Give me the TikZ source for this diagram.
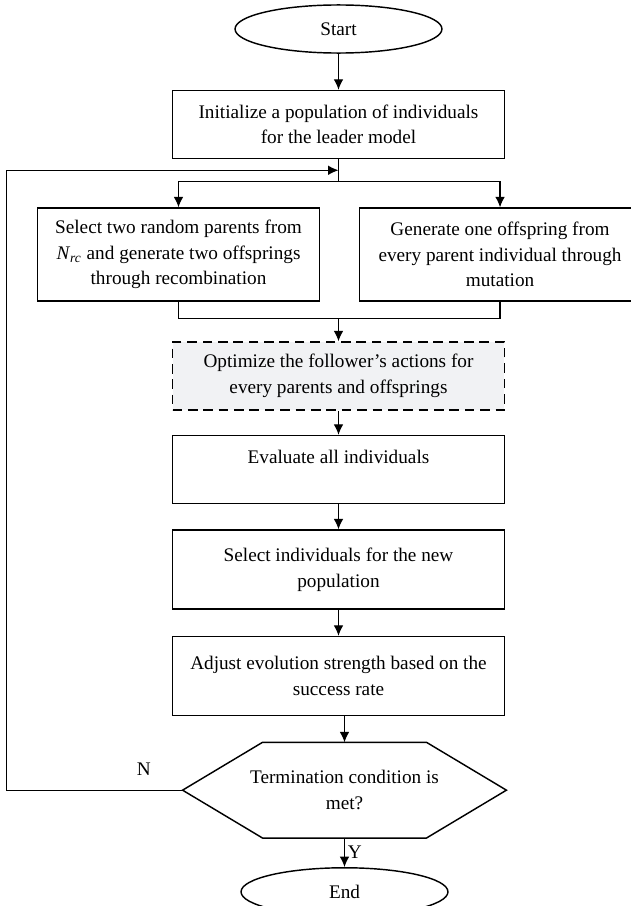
\documentclass[tikz,border=0pt]{standalone}
\usepackage{fontspec}
\setmainfont{Liberation Serif}
\usetikzlibrary{positioning,arrows.meta,shapes.geometric}
\definecolor{optfill}{RGB}{241,242,244}

\begin{document}
\begin{tikzpicture}[
                >={Latex[length=5.4pt,width=5pt]},
                font=\fontsize{10}{13.3}\selectfont,
                terminal/.style={ellipse, draw=black, line width=.75pt, minimum width=107.6pt, minimum height=25pt, inner sep=0pt},
                process/.style={rectangle, draw=black, line width=.75pt, align=center, minimum width=172.6pt, minimum height=35.4pt},
                follower/.style={process, dash pattern=on 5pt off 3pt, fill=optfill},
                decision/.style={rectangle, align=center, minimum width=168pt, minimum height=49.4pt},
                link/.style={line width=.6pt},
            ]
            \useasboundingbox (0,0) rectangle (328.12pt,-471.12pt);

            \node[terminal]  (start)                                                  at (176.02pt,-15.08pt) {Start};
            \node[process]   (init)      [below = 18.72pt of start]                   {Initialize a population of individuals\\for the leader model};
            \node[process, minimum width=146.6pt, minimum height=48.4pt] (recomb) [below = 24.96pt of init, xshift=-83.2pt] {Select two random parents from\\\textit{N}\textsubscript{\textit{rc}} and generate two offsprings\\through recombination};
            \node[process, minimum width=146.1pt, minimum height=48.4pt] (mutate) [below = 24.96pt of init, xshift=84pt]   {Generate one offspring from\\every parent individual through\\mutation};
            \node[follower]  (optimize)  [below = 94.64pt of init]                    {Optimize the follower’s actions for\\every parents and offsprings};
            \node[process]   (evaluate)  [below = 12.48pt of optimize]                {Evaluate all individuals\\~};
            \node[process, minimum height=41.1pt] (selectnew) [below = 13pt of evaluate]    {Select individuals for the new\\population};
            \node[process, minimum height=41.1pt] (adjust)    [below = 13.52pt of selectnew] {Adjust evolution strength based on the\\success rate};
            \node[decision]  (stop)      [below = 13.52pt of adjust, xshift=3.12pt]   {Termination condition is\\met?};
            \node[terminal]  (end)       [below = 15.08pt of stop]                    {End};

            \draw[line width=.75pt] (stop.west) -- ([xshift=41.6pt]stop.north west) -- ([xshift=-41.6pt]stop.north east) -- (stop.east) -- ([xshift=-41.6pt]stop.south east) -- ([xshift=41.6pt]stop.south west) -- cycle;

            \coordinate[below = 5.72pt of init.south]   (entry);
            \coordinate[below = 11.44pt of init.south]  (split);
            \coordinate[below = 8.84pt of recomb.south] (joinL);

            \draw[link,->] (start) -- (init);
            \draw[link] (init.south) -- (split);
            \draw[link,->] (split) -| (recomb.north);
            \draw[link,->] (split) -| (mutate.north);
            \draw[link] (recomb.south) -- (joinL) -| (mutate.south);
            \draw[link,->] (joinL -| init.south) -- (optimize.north);
            \draw[link,->] (optimize) -- (evaluate);
            \draw[link,->] (evaluate) -- (selectnew);
            \draw[link,->] (selectnew) -- (adjust);
            \draw[link,->] (stop.north |- adjust.south) -- (stop.north);
            \draw[link,->] (stop) -- node[right, inner sep=1.5pt] {Y} (end);
            \draw[link,->] (stop.west) -- node[above=3.8pt, pos=.22] {N} ++(-91.5pt,0) |- (entry);
        \end{tikzpicture}
\end{document}
